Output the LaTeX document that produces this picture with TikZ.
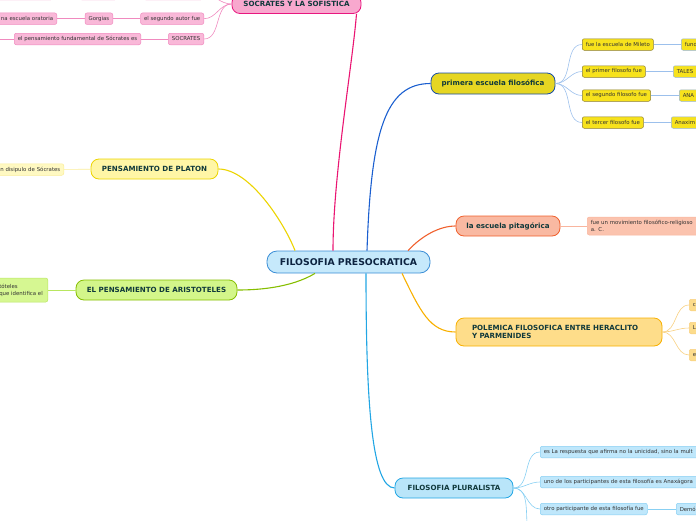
\documentclass[tikz,border=0pt]{standalone}
\usepackage{fontspec}
\setmainfont{DejaVu Sans}

\definecolor{cenfill}{HTML}{C6E9FB}
\definecolor{cenline}{HTML}{3B8ED6}
\definecolor{centxt}{HTML}{0C2340}
\definecolor{ramatxt}{HTML}{10393B}
\definecolor{hojatxt}{HTML}{333333}
% socrates
\definecolor{rosafill}{HTML}{F8A8CE}
\definecolor{rosaline}{HTML}{E8177F}
\definecolor{rosahoja}{HTML}{F9B8D8}
\definecolor{rosahojaline}{HTML}{F08ABF}
% primera escuela
\definecolor{amarfill}{HTML}{E6D622}
\definecolor{azulline}{HTML}{1B5FD0}
\definecolor{amarhoja}{HTML}{F7E21C}
\definecolor{amarhojaline}{HTML}{8A7D30}
\definecolor{azulclaro}{HTML}{9CC0EC}
% pitagorica
\definecolor{salmfill}{HTML}{F9B9A2}
\definecolor{salmline}{HTML}{F0602D}
\definecolor{salmhoja}{HTML}{FBC3AE}
\definecolor{salmhojaline}{HTML}{F9B59E}
% polemica
\definecolor{naranjafill}{HTML}{FEDD8A}
\definecolor{naranjaline}{HTML}{F8B000}
\definecolor{naranjahoja}{HTML}{FCDC8C}
\definecolor{naranjahojaline}{HTML}{F8D080}
% pluralista
\definecolor{celfill}{HTML}{B9E5F9}
\definecolor{celline}{HTML}{22A6E4}
\definecolor{celhoja}{HTML}{BFE7FB}
\definecolor{celhojaline}{HTML}{88D0F3}
% platon
\definecolor{limfill}{HTML}{FFF6A6}
\definecolor{limline}{HTML}{ECD400}
\definecolor{limhoja}{HTML}{FFF9C2}
\definecolor{limhojaline}{HTML}{FAEC98}
% aristoteles
\definecolor{verdefill}{HTML}{D3F68A}
\definecolor{verdeline}{HTML}{86BE00}
\definecolor{verdehoja}{HTML}{D6F792}
\definecolor{verdehojaline}{HTML}{B8E660}

\begin{document}
\begin{tikzpicture}[x=1pt, y=-1pt,
    rama/.style={draw, line width=0.8pt, rounded corners=8pt, inner sep=0pt,
      font=\fontsize{7.1}{9}\selectfont\bfseries, text=ramatxt},
    hoja/.style={draw, line width=0.5pt, rounded corners=2pt, minimum height=11.5pt,
      inner xsep=3.5pt, inner ysep=1.5pt, font=\fontsize{5.4}{7}\selectfont, text=hojatxt},
    enlace/.style={line width=1.1pt},
    fino/.style={line width=0.6pt}]
  % 1. marco
  \useasboundingbox (0,0) rectangle (696,520);
  \clip (0,0) rectangle (696,520);

  % 2. nodo central y ramas
  \node[rama, fill=cenfill, draw=cenline, text=centxt, minimum width=163pt, minimum height=22pt,
    rounded corners=10pt, font=\fontsize{9.3}{11}\selectfont\bfseries] (central) at (348.5,262) {FILOSOFIA PRESOCRATICA};
  \node[rama, fill=rosafill, draw=rosaline, minimum width=129pt, minimum height=19pt] (socrates) at (296.5,4) {SOCRATES Y LA SOFISTICA};
  \node[rama, fill=amarfill, draw=azulline!80!black, minimum width=124pt, minimum height=21pt] (primera) at (493,83.5) {primera escuela filosófica};
  \node[rama, fill=salmfill, draw=salmline, minimum width=104pt, minimum height=20pt] (pitagorica) at (508,226) {la escuela pitagórica};
  \node[rama, fill=naranjafill, draw=naranjaline, minimum height=28pt, inner xsep=16pt,
    text width=174pt, align=left, font=\fontsize{7.1}{8.3}\selectfont\bfseries] (polemica) at (559,332) {POLEMICA FILOSOFICA ENTRE HERACLITO\\Y PARMENIDES};
  \node[rama, fill=celfill, draw=celline, minimum width=118pt, minimum height=20pt] (pluralista) at (454,488) {FILOSOFIA PLURALISTA};
  \node[rama, fill=limfill, draw=limline, minimum width=127pt, minimum height=20pt] (platon) at (154.5,169) {PENSAMIENTO DE PLATON};
  \node[rama, fill=verdefill, draw=verdeline, minimum width=161pt, minimum height=20pt] (aristoteles) at (156.5,290) {EL PENSAMIENTO DE ARISTOTELES};

  % 3. enlaces del centro
  \draw[enlace, color=rosaline!90!red] ([xshift=-15.5pt]central.north) .. controls +(0,-75) and +(-4,50) .. ([xshift=60pt]socrates.south);
  \draw[enlace, color=azulline] ([xshift=18.5pt]central.north) .. controls +(4,-120) and +(-45,0) .. (primera.west);
  \draw[enlace, color=salmline] ([xshift=59.5pt]central.north) .. controls +(14,-15) and +(-16,0) .. (pitagorica.west);
  \draw[enlace, color=naranjaline] ([xshift=53.5pt]central.south) .. controls +(18,37) and +(-26,0) .. (polemica.west);
  \draw[enlace, color=celline] ([xshift=17.5pt]central.south) .. controls +(0,127) and +(-23,0) .. (pluralista.west);
  \draw[enlace, color=limline] ([xshift=-53.5pt]central.north) .. controls +(-10,-26) and +(32,0) .. (platon.east);
  \draw[enlace, color=verdeline] ([xshift=-33.5pt]central.south) .. controls +(-25,15) and +(18,0) .. (aristoteles.east);

  % 4. socrates y la sofistica
  \begin{scope}[every node/.style={hoja, fill=rosahoja, draw=rosahojaline, anchor=east}]
    \node[minimum width=59pt] (s1) at (203,-6) {};
    \node[minimum width=37pt] (s2) at (117,-6) {};
    \node[minimum width=70pt] (s3) at (53,-6) {};
    \node (s4) at (204,18.7) {el segundo autor fue};
    \node (s5) at (113,18.7) {Gorgias};
    \node[text width=70pt, align=right] (s6) at (57,18.7) {na escuela oratoria};
    \node (s7) at (204,39) {SOCRATES};
    \node (s8) at (141,39) {el pensamiento fundamental de Sócrates es};
  \end{scope}
  \coordinate (s9) at (-5,39);
  \foreach \n in {s1,s4,s7}
    \draw[fino, rosahojaline] (socrates.west) to[out=180, in=0] (\n.east);
  \draw[fino, rosahojaline] (s1) -- (s2) (s2) -- (s3) (s4) -- (s5) (s5) -- (s6) (s7) -- (s8) (s8.west) -- (s9);

  % 5. primera escuela filosofica
  \begin{scope}[every node/.style={hoja, fill=amarhoja, draw=amarhojaline, anchor=west}]
    \node (p1) at (582,44.5) {fue la escuela de Mileto};
    \node (p2) at (582,71.5) {el primer filosofo fue};
    \node (p3) at (582,95.5) {el segundo filosofo fue};
    \node (p4) at (582,122.5) {el tercer filosofo fue};
  \end{scope}
  \begin{scope}[every node/.style={hoja, fill=amarhoja, draw=azulclaro!80!gray, anchor=west, text width=34pt, align=left}]
    \node (p5) at (681,44.5) {fund};
    \node (p6) at (673,71.5) {TALES};
    \node (p7) at (679,95.5) {ANA};
    \node (p8) at (671,122.5) {Anaxim};
  \end{scope}
  \foreach \n in {p1,p2,p3,p4}
    \draw[fino, azulclaro] (primera.east) to[out=0, in=180] (\n.west);
  \draw[fino, azulclaro] (p1) -- (p5) (p2) -- (p6) (p3) -- (p7) (p4) -- (p8);

  % 6. escuela pitagorica
  \node[hoja, fill=salmhoja, draw=salmhojaline, anchor=west, minimum height=18pt, text width=130pt,
    align=left, font=\fontsize{5.4}{7.2}\selectfont] (g1) at (587,226) {fue un movimiento filosófico-religioso\\a. C.};
  \draw[fino, salmhojaline] (pitagorica) -- (g1);

  % 7. polemica entre heraclito y parmenides
  \begin{scope}[every node/.style={hoja, fill=naranjahoja, draw=naranjahojaline, anchor=west, text width=24pt, align=left}]
    \node (h1) at (689,305) {c};
    \node (h2) at (689,328) {L};
    \node (h3) at (689,355) {e};
  \end{scope}
  \foreach \n in {h1,h2,h3}
    \draw[fino, naranjahojaline] (polemica.east) to[out=0, in=180] (\n.west);

  % 8. filosofia pluralista
  \begin{scope}[every node/.style={hoja, fill=celhoja, draw=celhojaline, anchor=west}]
    \node[text width=170pt, align=left] (f1) at (540,452) {es La respuesta que afirma no la unicidad, sino la mult};
    \node[text width=170pt, align=left] (f2) at (540,482) {uno de los participantes de esta filosofía es Anaxágora};
    \node (f3) at (540,509) {otro participante de esta filosofía fue};
    \node[text width=34pt, align=left] (f4) at (676,509) {Demó};
  \end{scope}
  \coordinate (f5) at (540,545);
  \foreach \n in {f1,f2,f3,f5}
    \draw[fino, celhojaline] (pluralista.east) to[out=0, in=180] (\n.west);
  \draw[fino, celhojaline] (f3) -- (f4);

  % 9. platon y aristoteles
  \node[hoja, fill=limhoja, draw=limhojaline, anchor=east, text width=70pt, align=right] (pl1) at (64,169.5) {n disipulo de Sócrates};
  \draw[fino, limhojaline] (platon) -- (pl1);
  \node[hoja, fill=verdehoja, draw=verdehojaline, anchor=east, minimum height=24pt, text width=45pt,
    align=left] (ar1) at (48,290) {tóteles\\que identifica el};
  \draw[fino, verdehojaline] (aristoteles) -- (ar1);
\end{tikzpicture}
\end{document}
